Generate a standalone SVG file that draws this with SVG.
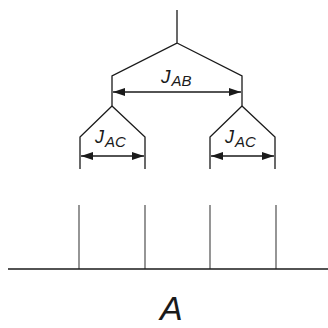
<svg xmlns="http://www.w3.org/2000/svg" width="328" height="328" viewBox="0 0 328 328">
  <style>
    .ln { stroke: #1a1a1a; stroke-width: 1.3; fill: none; }
    .st { stroke: #6a6a6a; stroke-width: 1.4; fill: none; }
    .lbl { font-family: "Liberation Sans", Arial, sans-serif; font-style: italic; fill: #1a1a1a; }
  </style>
  <defs>
    <marker id="ah" viewBox="0 0 12 8" refX="12" refY="4" markerWidth="12" markerHeight="8" markerUnits="userSpaceOnUse" orient="auto-start-reverse">
      <path d="M0,0 L12,4 L0,8 Z" fill="#1a1a1a"/>
    </marker>
  </defs>

  <!-- splitting tree -->
  <g id="tree">
    <path class="ln" d="M177,10 V43 L112,76 V106 M177,43 L242,76 V106"/>
    <path class="ln" d="M112,106 L80,137 V169 M112,106 L145,137 V169"/>
    <path class="ln" d="M242,106 L210,137 V169 M242,106 L275,137 V169"/>
  </g>

  <!-- coupling arrows -->
  <g id="connectors">
    <line class="ln" x1="113" y1="92" x2="241" y2="92" marker-start="url(#ah)" marker-end="url(#ah)"/>
    <line class="ln" x1="81" y1="156" x2="144" y2="156" marker-start="url(#ah)" marker-end="url(#ah)"/>
    <line class="ln" x1="211" y1="156" x2="274" y2="156" marker-start="url(#ah)" marker-end="url(#ah)"/>
  </g>

  <g id="labels">
    <text class="lbl" x="161" y="83" font-size="19">J<tspan font-size="15" dx="1" dy="3">AB</tspan></text>
    <text class="lbl" x="95" y="143" font-size="18">J<tspan font-size="15" dx="1" dy="4">AC</tspan></text>
    <text class="lbl" x="225" y="143" font-size="18">J<tspan font-size="15" dx="1" dy="4">AC</tspan></text>
  </g>

  <!-- spectrum lines -->
  <g id="spectrum">
    <path class="st" d="M79,205 V269 M145,205 V269 M210,205 V269 M276,205 V269"/>
    <line x1="8" y1="269" x2="328" y2="269" stroke="#1a1a1a" stroke-width="1.3"/>
  </g>

  <text id="nucleus" class="lbl" x="160" y="320" font-size="34">A</text>
</svg>
